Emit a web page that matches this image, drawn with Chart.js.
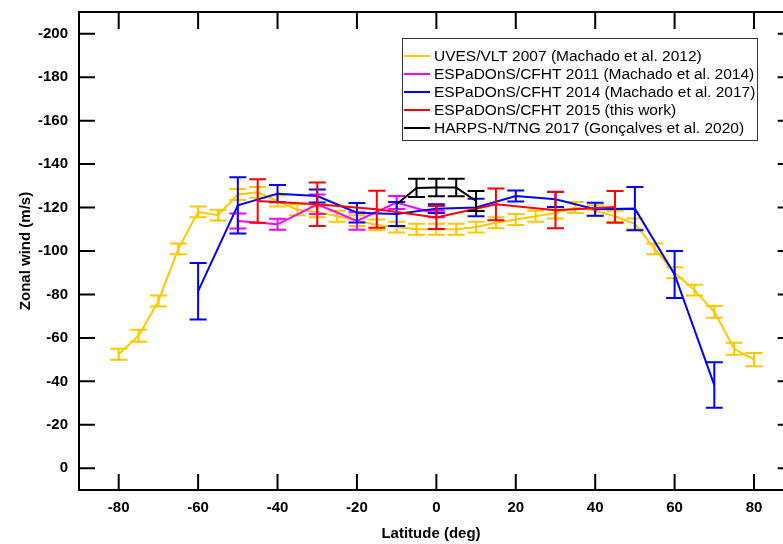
<!DOCTYPE html>
<html>
<head>
<meta charset="utf-8">
<script src="https://cdn.jsdelivr.net/npm/chart.js@4/dist/chart.umd.min.js"></script>
<style>
html, body { margin: 0; padding: 0; background: #fff; }
</style>
</head>
<body>
<canvas id="vent" width="783" height="544"></canvas>
<script>
// --- donnees (vent zonal en m/s, negatif = retrograde) ---
const latUves = [-80, -75, -70, -65, -60, -55, -50, -45, -40, -35, -30, -25, -20, -15, -10, -5, 0, 5, 10, 15, 20, 25, 30, 35, 40, 45, 50, 55, 60, 65, 70, 75, 80];
const ventUves = [-52.5, -61, -77, -101, -118, -116.5, -126, -127, -123, -119, -118, -116, -114, -112, -111, -110, -110, -110, -111, -113, -114.5, -116, -117.5, -120, -118.5, -116, -112.5, -101, -90, -82, -72, -55, -50];
const errUves = [2.5, 2.8, 2.5, 2.5, 2.5, 2.5, 2.5, 2.5, 2.5, 2.5, 2.5, 2.5, 2.5, 2.5, 2.5, 2.5, 2.5, 2.5, 2.5, 2.5, 2.5, 2.5, 2.5, 2.5, 2.5, 2.5, 2.5, 2.5, 2.5, 2.5, 2.7, 2.8, 3];

const lat2011 = [-50, -40, -30, -20, -10, 0];
const vent2011 = [-113.8, -112.3, -121.5, -113.8, -122.3, -117];
const err2011 = [3.5, 2.5, 4.5, 4, 3, 1.5];

const lat2014 = [-60, -50, -40, -30, -20, -10, 0, 10, 20, 30, 40, 50, 60, 70];
const vent2014 = [-81.5, -121, -126.4, -125.3, -117.6, -117, -119.5, -120, -125.3, -123.8, -119.2, -119.5, -89.2, -38.3];
const err2014 = [13, 13, 4, 3, 4.5, 5.5, 2, 4, 2.5, 3.5, 3, 10, 10.8, 10.5];

const lat2015 = [-45, -30, -15, 0, 15, 30, 45];
const vent2015 = [-123, -121.5, -119.2, -115.4, -121.5, -118.8, -120.3];
const err2015 = [10, 10, 8.5, 5.3, 7.3, 8.3, 7.3];

const latHarps = [-10, -5, 0, 5, 10];
const ventHarps = [-121.5, -129, -129.2, -129.2, -123];
const errHarps = [null, 4.2, 4, 4, 4.6];

// graduations
const ticksLat = [-80, -60, -40, -20, 0, 20, 40, 60, 80];
const ticksVent = [-200, -180, -160, -140, -120, -100, -80, -60, -40, -20, 0];

const police = "'Liberation Sans', Arial, sans-serif";

function points(lats, vents) {
    return lats.map((x, i) => ({ x: x, y: vents[i] }));
}

function serie(label, couleur, lats, vents, errs, ordre) {
    return {
        label: label,
        data: points(lats, vents),
        errors: errs,
        borderColor: couleur,
        backgroundColor: couleur,
        borderWidth: 2,
        pointRadius: 0,
        tension: 0,
        fill: false,
        order: ordre
    };
}

// --- barres d'erreur, dessinees juste apres chaque serie ---
const barresErreur = {
    id: 'barresErreur',
    afterDatasetDraw(chart, args) {
        const ds = chart.data.datasets[args.index];
        if (!ds.errors) return;
        const ctx = chart.ctx;
        const xs = chart.scales.x;
        const ys = chart.scales.y;
        ctx.save();
        ctx.strokeStyle = ds.borderColor;
        ctx.lineWidth = 2;
        ctx.beginPath();
        ds.data.forEach((p, i) => {
            const e = ds.errors[i];
            if (e == null) return;
            const px = xs.getPixelForValue(p.x);
            const y1 = ys.getPixelForValue(p.y - e);
            const y2 = ys.getPixelForValue(p.y + e);
            ctx.moveTo(px, y1); ctx.lineTo(px, y2);
            ctx.moveTo(px - 8.5, y1); ctx.lineTo(px + 8.5, y1);
            ctx.moveTo(px - 8.5, y2); ctx.lineTo(px + 8.5, y2);
        });
        ctx.stroke();
        ctx.restore();
    }
};

// --- cadre avec graduations vers l'interieur + legende encadree ---
const cadre = {
    id: 'cadre',
    afterDraw(chart) {
        const ctx = chart.ctx;
        const x = chart.scales.x;
        const y = chart.scales.y;
        const gauche = x.left;
        const droite = x.getPixelForValue(90);
        const haut = y.top;
        const bas = y.bottom;

        ctx.save();
        ctx.strokeStyle = '#000';
        ctx.lineWidth = 2;
        ctx.strokeRect(gauche, haut, droite - gauche, bas - haut);
        ctx.beginPath();
        x.ticks.forEach(t => {
            const px = x.getPixelForValue(t.value);
            ctx.moveTo(px, bas); ctx.lineTo(px, bas - 16);
            ctx.moveTo(px, haut); ctx.lineTo(px, haut + 17);
        });
        y.ticks.forEach(t => {
            const py = y.getPixelForValue(t.value);
            ctx.moveTo(gauche, py); ctx.lineTo(gauche + 16, py);
            ctx.moveTo(droite, py); ctx.lineTo(droite - 16, py);
        });
        ctx.stroke();

        // legende
        const bx = 402, by = 38, bw = 355, bh = 102;
        ctx.fillStyle = '#fff';
        ctx.fillRect(bx, by, bw, bh);
        ctx.strokeStyle = '#333';
        ctx.lineWidth = 1;
        ctx.strokeRect(bx + 0.5, by + 0.5, bw, bh);
        ctx.font = '15.5px ' + police;
        ctx.textBaseline = 'middle';
        ctx.textAlign = 'left';
        chart.data.datasets.forEach((ds, i) => {
            const ly = 56 + i * 18;
            ctx.strokeStyle = ds.borderColor;
            ctx.lineWidth = 2;
            ctx.beginPath();
            ctx.moveTo(404, ly); ctx.lineTo(430, ly);
            ctx.stroke();
            ctx.fillStyle = '#000';
            ctx.fillText(ds.label, 434, ly + 1);
        });
        ctx.restore();
    }
};

new Chart(document.getElementById('vent'), {
    type: 'line',
    data: {
        datasets: [
            serie('UVES/VLT 2007 (Machado et al. 2012)', '#FFC800', latUves, ventUves, errUves, 5),
            serie('ESPaDOnS/CFHT 2011 (Machado et al. 2014)', '#FF00FF', lat2011, vent2011, err2011, 4),
            serie('ESPaDOnS/CFHT 2014 (Machado et al. 2017)', '#0000FF', lat2014, vent2014, err2014, 3),
            serie('ESPaDOnS/CFHT 2015 (this work)', '#FF0000', lat2015, vent2015, err2015, 2),
            serie('HARPS-N/TNG 2017 (Gonçalves et al. 2020)', '#000000', latHarps, ventHarps, errHarps, 1)
        ]
    },
    options: {
        responsive: false,
        animation: false,
        layout: { padding: { left: 0, top: 12, right: 0, bottom: 0 } },
        plugins: {
            legend: { display: false },
            tooltip: { enabled: false }
        },
        scales: {
            x: {
                type: 'linear',
                min: -90,
                max: 87.3,
                afterBuildTicks: s => { s.ticks = ticksLat.map(v => ({ value: v })); },
                afterFit: s => { s.height = 54; s.paddingLeft = 0; s.paddingRight = 0; },
                grid: { display: false, drawTicks: false },
                border: { display: false },
                ticks: {
                    maxRotation: 0,
                    autoSkip: false,
                    padding: 9,
                    color: '#000',
                    font: { family: police, size: 15, weight: 'bold' }
                },
                title: {
                    display: true,
                    text: 'Latitude (deg)',
                    color: '#000',
                    padding: { top: 0, bottom: 1.6 },
                    font: { family: police, size: 15, weight: 'bold' }
                }
            },
            y: {
                min: -210,
                max: 10,
                reverse: true,
                afterBuildTicks: s => { s.ticks = ticksVent.map(v => ({ value: v })); },
                afterFit: s => { s.width = 79; s.paddingTop = 0; s.paddingBottom = 0; },
                grid: { display: false, drawTicks: false },
                border: { display: false },
                ticks: {
                    autoSkip: false,
                    padding: 11,
                    color: '#000',
                    font: { family: police, size: 15, weight: 'bold' }
                },
                title: {
                    display: true,
                    text: 'Zonal wind (m/s)',
                    color: '#000',
                    padding: { top: 16.6, bottom: 0 },
                    font: { family: police, size: 15, weight: 'bold' }
                }
            }
        }
    },
    plugins: [barresErreur, cadre]
});
</script>
</body>
</html>
